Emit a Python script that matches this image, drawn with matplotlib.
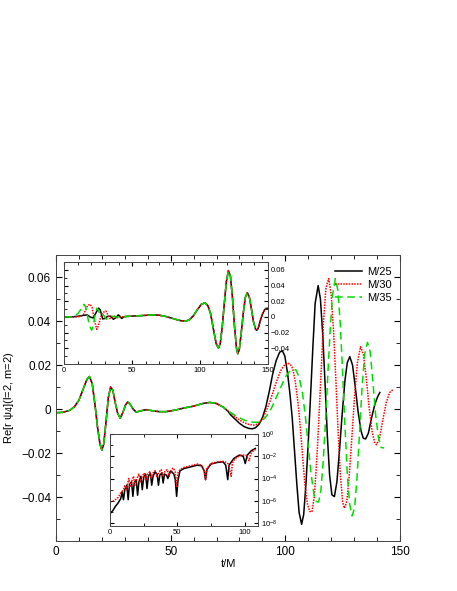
import numpy as np
import matplotlib
matplotlib.use("Agg")
import matplotlib.pyplot as plt
from matplotlib.ticker import FixedLocator, MultipleLocator, FuncFormatter, NullFormatter

plt.rcParams['font.family'] = ['Liberation Sans', 'DejaVu Sans']

# ---- main panel: Re[r psi4](l=2,m=2) vs t/M ----
# early part, where the three resolutions lie on top of each other
t_common = [0, 3, 6, 8, 10, 12, 13.5, 14.6, 15.8, 17, 18.2, 19.2, 20, 20.8, 21.8,
            22.8, 23.8, 24.8, 25.8, 26.9, 28, 29.2, 30.3, 31.3, 32.3, 33.6, 35, 37,
            39.4, 42, 45, 48, 52, 56, 60, 64, 67, 70, 73, 75]
v_common = [-0.0017, -0.0015, -0.0006, 0.001, 0.004, 0.0095, 0.0135, 0.0148, 0.0115,
            0.002, -0.009, -0.016, -0.0187, -0.016, -0.006, 0.005, 0.010, 0.0085, 0.003,
            -0.002, -0.0042, -0.0015, 0.0018, 0.0032, 0.0022, 0.0, -0.0014, -0.0008,
            -0.0003, -0.0008, -0.0012, -0.0012, -0.0005, 0.0005, 0.0013, 0.0025, 0.003,
            0.0025, 0.0008, -0.001]

t_m25 = [76, 78, 80, 82, 84, 85.6, 87, 88.5, 90, 91.5, 93, 94.5, 96, 97.5, 98.7, 99.8,
         101, 102, 103, 104, 105, 106, 107.1, 108, 109, 110, 111, 112, 113, 114.3, 115.3,
         116.3, 117.3, 118.3, 119.3, 120.3, 121.4, 122.5, 123.6, 124.8, 126, 127, 128.1,
         129.3, 130.5, 131.7, 133, 134, 135, 136.2, 137.6, 139, 140.2, 141.2]
v_m25 = [-0.0025, -0.0045, -0.0065, -0.008, -0.0088, -0.009, -0.0085, -0.007, -0.004,
         0.001, 0.008, 0.016, 0.022, 0.0258, 0.0265, 0.024, 0.016, 0.007, -0.004, -0.019,
         -0.034, -0.047, -0.0524, -0.048, -0.034, -0.015, 0.006, 0.028, 0.048, 0.0561,
         0.050, 0.034, 0.012, -0.012, -0.030, -0.039, -0.0398, -0.033, -0.019, -0.002,
         0.013, 0.021, 0.0238, 0.020, 0.010, -0.001, -0.010, -0.0133, -0.0136, -0.011,
         -0.004, 0.002, 0.0055, 0.0075]

t_m30 = [76, 78, 80, 82, 84, 86, 87.5, 89, 90.5, 92, 93.5, 95, 96.5, 98, 99.5, 100.8,
         102, 103.2, 104.4, 105.5, 106.5, 107.5, 108.5, 109.6, 110.6, 111.6, 112.6, 113.6,
         114.6, 115.6, 116.6, 117.7, 118.9, 120, 121, 122, 123, 124, 125, 125.8, 126.8,
         127.8, 129, 130.2, 131.4, 132.8, 134, 135.3, 136.5, 137.8, 139, 139.8, 141,
         142.5, 144, 145.5, 146.8]
v_m30 = [-0.002, -0.0035, -0.005, -0.0062, -0.007, -0.0073, -0.007, -0.0058, -0.0035,
         0.0, 0.004, 0.009, 0.0135, 0.0175, 0.0198, 0.0208, 0.0206, 0.0185, 0.012, 0.003,
         -0.008, -0.021, -0.034, -0.043, -0.0465, -0.0468, -0.040, -0.025, -0.005, 0.017,
         0.039, 0.055, 0.0593, 0.052, 0.036, 0.014, -0.010, -0.030, -0.0425, -0.0451,
         -0.042, -0.031, -0.013, 0.006, 0.021, 0.0283, 0.025, 0.014, 0.001, -0.010,
         -0.0155, -0.0162, -0.0135, -0.005, 0.003, 0.0075, 0.0087]

t_m35 = [76, 78, 80, 82, 84, 86, 88, 89.5, 91, 92.5, 94, 95.5, 97, 98.5, 100, 101.5, 103,
         104.6, 106, 107.5, 108.7, 110, 111.3, 112.5, 113.5, 114.5, 115.5, 116.5, 117.5,
         118.5, 119.5, 120.6, 121.8, 122.9, 124, 125, 126, 127, 128, 129.1, 130.2, 131.2,
         132.3, 133.4, 134.6, 135.8, 137, 138.2, 139.4, 140.6, 141.8, 143.1]
v_m35 = [-0.0015, -0.0028, -0.004, -0.005, -0.0057, -0.006, -0.006, -0.0055, -0.0042,
         -0.0022, 0.0005, 0.004, 0.0075, 0.011, 0.0145, 0.0168, 0.0178, 0.0178, 0.0145,
         0.007, -0.003, -0.017, -0.030, -0.039, -0.042, -0.0423, -0.037, -0.024, -0.006,
         0.015, 0.035, 0.052, 0.0593, 0.054, 0.038, 0.016, -0.008, -0.029, -0.043, -0.0486,
         -0.045, -0.032, -0.012, 0.009, 0.025, 0.0303, 0.026, 0.012, -0.003, -0.013,
         -0.0175, -0.0177]

# ---- upper inset: time-shifted waveforms ----
ins_t_m25 = [0, 5, 10, 14, 17, 19, 21, 23, 25.2, 26.5, 28.3, 30, 31.7, 34, 36.2, 38,
             39.8, 41, 42.3, 44]
ins_v_m25 = [0.0, 0.0, 0.0008, 0.002, 0.0025, 0.0, -0.0013, 0.004, 0.0112, 0.009,
             -0.0025, -0.002, 0.0005, 0.001, -0.003, -0.001, 0.0026, 0.001, -0.002, 0.0]
ins_t_m30 = [0, 8, 11, 12.7, 14, 15.5, 17, 19, 20.5, 22, 23.9, 25.2, 26.5, 28, 30.5, 32,
             33.5, 35, 37, 39, 42, 44]
ins_v_m30 = [0.0, 0.0, 0.0005, 0.0015, 0.003, 0.008, 0.014, 0.0163, 0.012, -0.002,
             -0.0158, -0.011, -0.002, 0.005, 0.0077, 0.003, -0.002, -0.001, 0.001, -0.001,
             0.0003, 0.0]
ins_t_m35 = [0, 5, 6.6, 8, 10.2, 12.7, 14.5, 15.7, 17, 18.5, 20.2, 21.5, 22.8, 23.9, 25,
             26.5, 28, 29.5, 31, 33, 35, 38, 41, 44]
ins_v_m35 = [0.0, 0.0, 0.0005, 0.002, 0.0045, 0.011, 0.016, 0.013, 0.002, -0.011, -0.017,
             -0.010, 0.003, 0.011, 0.009, 0.003, 0.004, 0.001, -0.003, -0.001, 0.001, 0.0,
             0.0, 0.0]
# aligned part shared by all three
ins_t_late = [45, 55, 65, 70, 75, 80, 85, 89, 92, 95, 98, 101, 103.8, 106, 108, 110, 112,
              113.6, 115, 116.5, 118, 119.5, 121, 122.5, 124, 125.5, 127, 127.9, 129,
              130.5, 132, 133.5, 135, 136.5, 138, 139.5, 141, 141.9, 143, 144.5, 146,
              147.5, 148.7, 150]
ins_v_late = [0.0005, 0.0015, 0.0025, 0.0022, 0.0005, -0.002, -0.0045, -0.0055, -0.004,
              0.001, 0.009, 0.016, 0.018, 0.014, 0.003, -0.016, -0.034, -0.0397, -0.034,
              -0.012, 0.017, 0.045, 0.059, 0.052, 0.025, -0.012, -0.040, -0.047, -0.042,
              -0.020, 0.005, 0.025, 0.0308, 0.025, 0.010, -0.006, -0.0155, -0.017, -0.0145,
              -0.005, 0.003, 0.0085, 0.0108, 0.011]
ins_m35_end = 142.5

# ---- lower inset: log10 of the difference ----
err_t_m25 = [0, 2, 4, 6, 8, 9, 10, 11, 12.5, 13.5, 14.5, 16, 17, 18, 19.5, 20.5, 21.5, 23,
             24, 25, 26.5, 27.5, 28.5, 30, 31, 32, 33.5, 35, 36, 37, 38.5, 39.5, 40.5, 42,
             43, 44.5, 46, 47.5, 48.5, 49.5, 50.5, 52, 55, 60, 65, 68, 70, 71, 72, 75, 80,
             84, 86, 87.5, 88.5, 92, 96, 99, 100.5, 102, 105, 108]
err_log_m25 = [-7.15, -6.9, -6.5, -6.2, -5.8, -5.2, -5.9, -5.0, -4.6, -5.9, -4.5, -4.3,
               -5.6, -4.4, -4.1, -5.5, -4.3, -3.8, -5.0, -3.9, -3.6, -4.9, -3.8, -3.5,
               -4.6, -3.8, -3.4, -3.6, -4.6, -3.7, -3.5, -4.4, -3.6, -3.7, -4.0, -3.4,
               -3.4, -3.6, -4.1, -5.6, -4.2, -3.3, -3.1, -2.95, -2.8, -2.85, -3.3, -4.1,
               -3.2, -2.7, -2.55, -2.5, -2.8, -4.1, -2.8, -2.2, -1.9, -2.0, -2.65, -1.9,
               -1.5, -1.3]
err_t_m30 = [0, 3, 6, 8, 10, 11, 12, 13, 14, 15, 16, 17.5, 18.5, 20, 21.5, 22.5, 24, 25.5,
             26.5, 28, 29.5, 30.5, 32, 33.5, 35, 36.5, 38, 39.5, 41, 42.5, 44, 45.5, 47,
             48.5, 49.5, 50.5, 52, 55, 60, 65, 68, 70, 71, 72, 75, 80, 85, 88, 90, 91, 93,
             97, 101, 103.4, 104.5, 107, 109]
err_log_m30 = [-6.1, -6.0, -5.7, -5.3, -5.0, -4.6, -5.0, -4.5, -4.0, -4.8, -4.3, -3.8,
               -4.6, -4.0, -3.6, -4.3, -3.8, -3.5, -4.2, -3.6, -3.4, -4.0, -3.5, -3.3,
               -3.9, -3.4, -3.2, -3.8, -3.3, -3.2, -3.8, -3.2, -3.05, -3.4, -4.8, -3.5,
               -3.2, -3.0, -2.85, -2.7, -2.8, -3.3, -4.1, -3.1, -2.65, -2.5, -2.45, -2.7,
               -3.8, -2.6, -2.2, -1.9, -1.9, -2.4, -1.8, -1.45, -1.35]

labels = ["M/25", "M/30", "M/35"]
colors = ["black", "red", "#00dd00"]
styles = [dict(ls="-", lw=1.1), dict(ls=(0, (1, 0.8)), lw=1.1), dict(ls=(0, (5, 3)), lw=1.1)]


def fmt_num(x, pos):
    s = "%g" % round(x, 4)
    return s.replace("-", "\u2212")


fig = plt.figure(figsize=(4.57, 5.91), dpi=100)

ax = fig.add_axes([0.1225, 0.0846, 0.7528, 0.4839])
series = [(t_m25, v_m25), (t_m30, v_m30), (t_m35, v_m35)]
for (tt, vv), lab, c, st in zip(series, labels, colors, styles):
    ax.plot(t_common + tt, v_common + vv, color=c, label=lab, **st)
ax.set_xlim(0, 150)
ax.set_ylim(-0.06, 0.07)
ax.xaxis.set_major_locator(FixedLocator([0, 50, 100, 150]))
ax.xaxis.set_minor_locator(MultipleLocator(10))
ax.yaxis.set_major_locator(FixedLocator([-0.04, -0.02, 0, 0.02, 0.04, 0.06]))
ax.yaxis.set_minor_locator(MultipleLocator(0.01))
ax.yaxis.set_major_formatter(FuncFormatter(fmt_num))
ax.tick_params(which="both", direction="in", top=True, right=True, labelsize=8.5)
ax.tick_params(which="major", length=4)
ax.tick_params(which="minor", length=3)
ax.set_xlabel("t/M", fontsize=8, labelpad=1)
ax.set_ylabel("Re[r \u03c8$_4$](l=2, m=2)", fontsize=8, labelpad=4)
ax.legend(loc="upper right", bbox_to_anchor=(1.0, 0.985), frameon=False, fontsize=8,
          handlelength=2.4, handletextpad=0.5, labelspacing=0.25, borderaxespad=0.3)

# upper inset
ax1 = fig.add_axes([0.1407, 0.3841, 0.4451, 0.1726])
ins_early = [(ins_t_m25, ins_v_m25), (ins_t_m30, ins_v_m30), (ins_t_m35, ins_v_m35)]
for i, ((tt, vv), c, st) in enumerate(zip(ins_early, colors, styles)):
    t_all = np.array(tt + ins_t_late)
    v_all = np.array(vv + ins_v_late)
    if i == 2:
        keep = t_all <= ins_m35_end
        t_all, v_all = t_all[keep], v_all[keep]
    ax1.plot(t_all, v_all, color=c, **st)
ax1.set_xlim(0, 150)
ax1.set_ylim(-0.06, 0.07)
ax1.xaxis.set_major_locator(FixedLocator([0, 50, 100, 150]))
ax1.xaxis.set_minor_locator(MultipleLocator(10))
ax1.yaxis.set_major_locator(FixedLocator([-0.04, -0.02, 0, 0.02, 0.04, 0.06]))
ax1.yaxis.set_minor_locator(MultipleLocator(0.01))
ax1.yaxis.set_major_formatter(FuncFormatter(fmt_num))
ax1.yaxis.tick_right()
ax1.tick_params(which="both", direction="in", top=True, left=True, right=True,
                labelleft=False, labelright=True, labelsize=5.5, pad=2)
ax1.tick_params(which="major", length=3)
ax1.tick_params(which="minor", length=2)

# lower inset
ax2 = fig.add_axes([0.2407, 0.1100, 0.3239, 0.1557])
err = [(err_t_m25, err_log_m25), (err_t_m30, err_log_m30)]
for (tt, ll), c, st in zip(err, colors[:2], styles[:2]):
    ax2.plot(tt, 10.0 ** np.array(ll), color=c, **st)
ax2.set_yscale("log")
ax2.set_xlim(0, 110)
ax2.set_ylim(5.5e-9, 1.0)
ax2.xaxis.set_major_locator(FixedLocator([0, 50, 100]))
ax2.xaxis.set_minor_locator(FixedLocator([25, 75]))
ax2.yaxis.set_major_locator(FixedLocator([1e-8, 1e-6, 1e-4, 1e-2, 1e0]))
ax2.yaxis.set_minor_locator(FixedLocator([1e-7, 1e-5, 1e-3, 1e-1]))
ax2.yaxis.set_minor_formatter(NullFormatter())
ax2.yaxis.tick_right()
ax2.tick_params(which="both", direction="in", top=True, left=True, right=True,
                labelleft=False, labelright=True, labelsize=5.5, pad=2)
ax2.tick_params(which="major", length=3)
ax2.tick_params(which="minor", length=2)

for a in (ax, ax1, ax2):
    for sp in a.spines.values():
        sp.set_linewidth(0.7)
        sp.set_color("#444444")

fig.savefig("out.png", dpi=100)
